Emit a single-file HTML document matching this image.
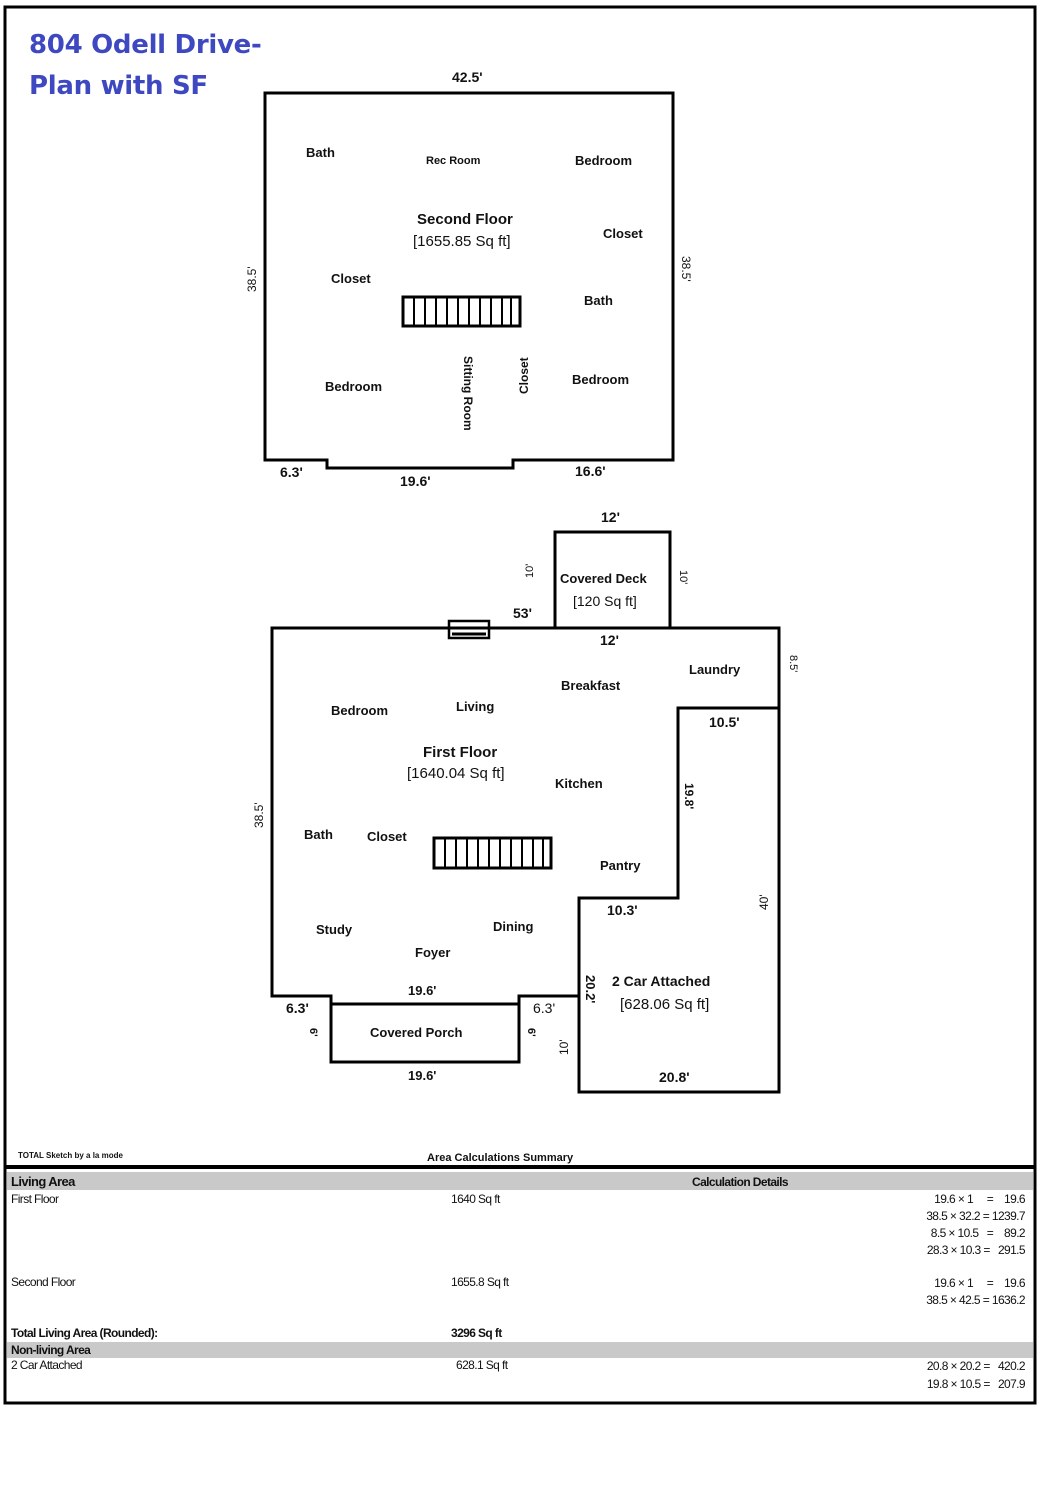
<!DOCTYPE html>
<html><head><meta charset="utf-8"><style>
html,body{margin:0;padding:0;background:#fff;}
svg{display:block;}
text{font-family:"Liberation Sans",sans-serif;fill:#111;white-space:pre;}
.r{font-size:13px;font-weight:bold;}
.d{font-size:14px;font-weight:bold;}
.t{font-size:12px;font-family:"Liberation Sans Narrow","Liberation Sans",sans-serif;letter-spacing:-0.6px;font-weight:bold;}
</style></head><body>
<svg width="1042" height="1500" viewBox="0 0 1042 1500" xmlns="http://www.w3.org/2000/svg">
<rect x="0" y="0" width="1042" height="1500" fill="#fff"/>
<path d="M5 1403 L5 7 L1035 7 L1035 1403 Z" fill="none" stroke="#000" stroke-width="3"/>
<text x="29" y="53" style="font-size:26px;font-weight:bold;fill:#3e48c0;font-family:'DejaVu Sans','Liberation Sans',sans-serif;letter-spacing:-0.3px">804 Odell Drive-</text>
<text x="29" y="94" style="font-size:26px;font-weight:bold;fill:#3e48c0;font-family:'DejaVu Sans','Liberation Sans',sans-serif;letter-spacing:-0.3px">Plan with SF</text>

<g fill="none" stroke="#000" stroke-width="3">
<path d="M265 93 L673 93 L673 460 L513 460 L513 468 L327 468 L327 460 L265 460 Z"/>
<rect x="403" y="297" width="117" height="29"/>
</g>
<g stroke="#000" stroke-width="2">
<line x1="414" y1="297" x2="414" y2="326"/><line x1="425" y1="297" x2="425" y2="326"/><line x1="436" y1="297" x2="436" y2="326"/><line x1="447" y1="297" x2="447" y2="326"/><line x1="458" y1="297" x2="458" y2="326"/><line x1="469" y1="297" x2="469" y2="326"/><line x1="480" y1="297" x2="480" y2="326"/><line x1="491" y1="297" x2="491" y2="326"/><line x1="502" y1="297" x2="502" y2="326"/><line x1="511" y1="297" x2="511" y2="326"/>
</g>
<text class="d" x="452" y="82">42.5'</text>
<text class="r" x="306" y="157">Bath</text>
<text class="r" x="426" y="164" style="font-size:11px">Rec Room</text>
<text class="r" x="575" y="165">Bedroom</text>
<text class="d" x="417" y="224" style="font-size:15px">Second Floor</text>
<text class="d" x="413" y="246" style="font-weight:normal;font-size:15px">[1655.85 Sq ft]</text>
<text class="r" x="603" y="238">Closet</text>
<text class="r" x="331" y="283">Closet</text>
<text class="r" x="584" y="305">Bath</text>
<text class="r" x="325" y="391">Bedroom</text>
<text class="r" x="572" y="384">Bedroom</text>
<text class="r" transform="translate(464,356) rotate(90)" style="font-size:12px">Sitting Room</text>
<text class="r" transform="translate(528,394) rotate(-90)" style="font-size:12px">Closet</text>
<text class="r" transform="translate(256,292) rotate(-90)" style="font-size:12px;font-weight:normal">38.5'</text>
<text class="r" transform="translate(682,256) rotate(90)" style="font-size:12px;font-weight:normal">38.5'</text>
<text class="d" x="280" y="477">6.3'</text>
<text class="d" x="400" y="486">19.6'</text>
<text class="d" x="575" y="476">16.6'</text>

<g fill="none" stroke="#000" stroke-width="3">
<path d="M272 628 L779 628 L779 1092 L579 1092 L579 996 L519 996 L519 1004 L331 1004 L331 996 L272 996 Z"/>
<path d="M779 708 L678 708 L678 898 L579 898 L579 996"/>
<rect x="555" y="532" width="115" height="96"/>
<rect x="331" y="1004" width="188" height="58"/>
<rect x="449" y="621" width="40" height="17" stroke-width="2.5"/>
<rect x="434" y="838" width="117" height="30"/>
</g>
<line x1="452" y1="634" x2="486" y2="634" stroke="#000" stroke-width="3"/>
<g stroke="#000" stroke-width="2">
<line x1="445" y1="838" x2="445" y2="868"/><line x1="456" y1="838" x2="456" y2="868"/><line x1="467" y1="838" x2="467" y2="868"/><line x1="478" y1="838" x2="478" y2="868"/><line x1="489" y1="838" x2="489" y2="868"/><line x1="500" y1="838" x2="500" y2="868"/><line x1="511" y1="838" x2="511" y2="868"/><line x1="522" y1="838" x2="522" y2="868"/><line x1="533" y1="838" x2="533" y2="868"/><line x1="543" y1="838" x2="543" y2="868"/>
</g>
<text class="d" x="601" y="522">12'</text>
<text class="r" x="560" y="583">Covered Deck</text>
<text class="r" x="573" y="606" style="font-weight:normal;font-size:14px">[120 Sq ft]</text>
<text class="r" transform="translate(533,578) rotate(-90)" style="font-size:11px;font-weight:normal">10'</text>
<text class="r" transform="translate(680,570) rotate(90)" style="font-size:11px;font-weight:normal">10'</text>
<text class="d" x="513" y="618">53'</text>
<text class="d" x="600" y="645">12'</text>
<text class="r" x="689" y="674">Laundry</text>
<text class="r" x="561" y="690">Breakfast</text>
<text class="r" transform="translate(790,655) rotate(90)" style="font-size:11px;font-weight:normal">8.5'</text>
<text class="r" x="331" y="715">Bedroom</text>
<text class="r" x="456" y="711">Living</text>
<text class="d" x="709" y="727">10.5'</text>
<text class="d" x="423" y="757" style="font-size:15px">First Floor</text>
<text class="d" x="407" y="778" style="font-weight:normal;font-size:15px">[1640.04 Sq ft]</text>
<text class="r" x="555" y="788">Kitchen</text>
<text class="r" transform="translate(685,783) rotate(90)" style="font-size:12px">19.8'</text>
<text class="r" transform="translate(263,828) rotate(-90)" style="font-size:12px;font-weight:normal">38.5'</text>
<text class="r" x="304" y="839">Bath</text>
<text class="r" x="367" y="841">Closet</text>
<text class="r" x="600" y="870">Pantry</text>
<text class="r" transform="translate(768,910) rotate(-90)" style="font-size:12px;font-weight:normal">40'</text>
<text class="d" x="607" y="915">10.3'</text>
<text class="r" x="316" y="934">Study</text>
<text class="r" x="493" y="931">Dining</text>
<text class="r" x="415" y="957">Foyer</text>
<text class="d" x="612" y="986">2 Car Attached</text>
<text class="r" x="620" y="1009" style="font-weight:normal;font-size:15px">[628.06 Sq ft]</text>
<text class="r" transform="translate(586,975) rotate(90)" style="font-size:13px">20.2'</text>
<text class="d" x="408" y="995" style="font-size:13px">19.6'</text>
<text class="d" x="286" y="1013">6.3'</text>
<text class="d" x="533" y="1013" style="font-weight:normal">6.3'</text>
<text class="r" x="370" y="1037">Covered Porch</text>
<text class="r" transform="translate(310,1028) rotate(90)" style="font-size:11px">6'</text>
<text class="r" transform="translate(528,1028) rotate(90)" style="font-size:11px">6'</text>
<text class="r" transform="translate(568,1055) rotate(-90)" style="font-size:12px;font-weight:normal">10'</text>
<text class="d" x="408" y="1080" style="font-size:13px">19.6'</text>
<text class="d" x="659" y="1082">20.8'</text>

<text x="18" y="1158" style="font-size:8px;font-weight:bold">TOTAL Sketch by a la mode</text>
<text x="427" y="1161" style="font-size:11px;font-weight:bold">Area Calculations Summary</text>
<rect x="5" y="1165" width="1030" height="4" fill="#000"/>
<rect x="7" y="1172" width="1026" height="18" fill="#c9c9c9"/>
<rect x="7" y="1342" width="1026" height="16" fill="#c9c9c9"/>
<text class="t" x="11" y="1186" style="font-size:13px">Living Area</text>
<text class="t" x="692" y="1186">Calculation Details</text>
<text class="t" x="11" y="1203" style="font-weight:normal">First Floor</text>
<text class="t" x="451" y="1203" style="font-weight:normal">1640 Sq ft</text>
<g text-anchor="end">
<text class="t" x="1025" y="1203" style="font-weight:normal">19.6 × 1     =    19.6</text>
<text class="t" x="1025" y="1220" style="font-weight:normal">38.5 × 32.2 = 1239.7</text>
<text class="t" x="1025" y="1237" style="font-weight:normal">8.5 × 10.5   =    89.2</text>
<text class="t" x="1025" y="1254" style="font-weight:normal">28.3 × 10.3 =   291.5</text>
<text class="t" x="1025" y="1287" style="font-weight:normal">19.6 × 1     =    19.6</text>
<text class="t" x="1025" y="1304" style="font-weight:normal">38.5 × 42.5 = 1636.2</text>
<text class="t" x="1025" y="1370" style="font-weight:normal">20.8 × 20.2 =   420.2</text>
<text class="t" x="1025" y="1388" style="font-weight:normal">19.8 × 10.5 =   207.9</text>
</g>
<text class="t" x="11" y="1286" style="font-weight:normal">Second Floor</text>
<text class="t" x="451" y="1286" style="font-weight:normal">1655.8 Sq ft</text>
<text class="t" x="11" y="1337">Total Living Area (Rounded):</text>
<text class="t" x="451" y="1337">3296 Sq ft</text>
<text class="t" x="11" y="1354">Non-living Area</text>
<text class="t" x="11" y="1369" style="font-weight:normal">2 Car Attached</text>
<text class="t" x="456" y="1369" style="font-weight:normal">628.1 Sq ft</text>
</svg>
</body></html>
